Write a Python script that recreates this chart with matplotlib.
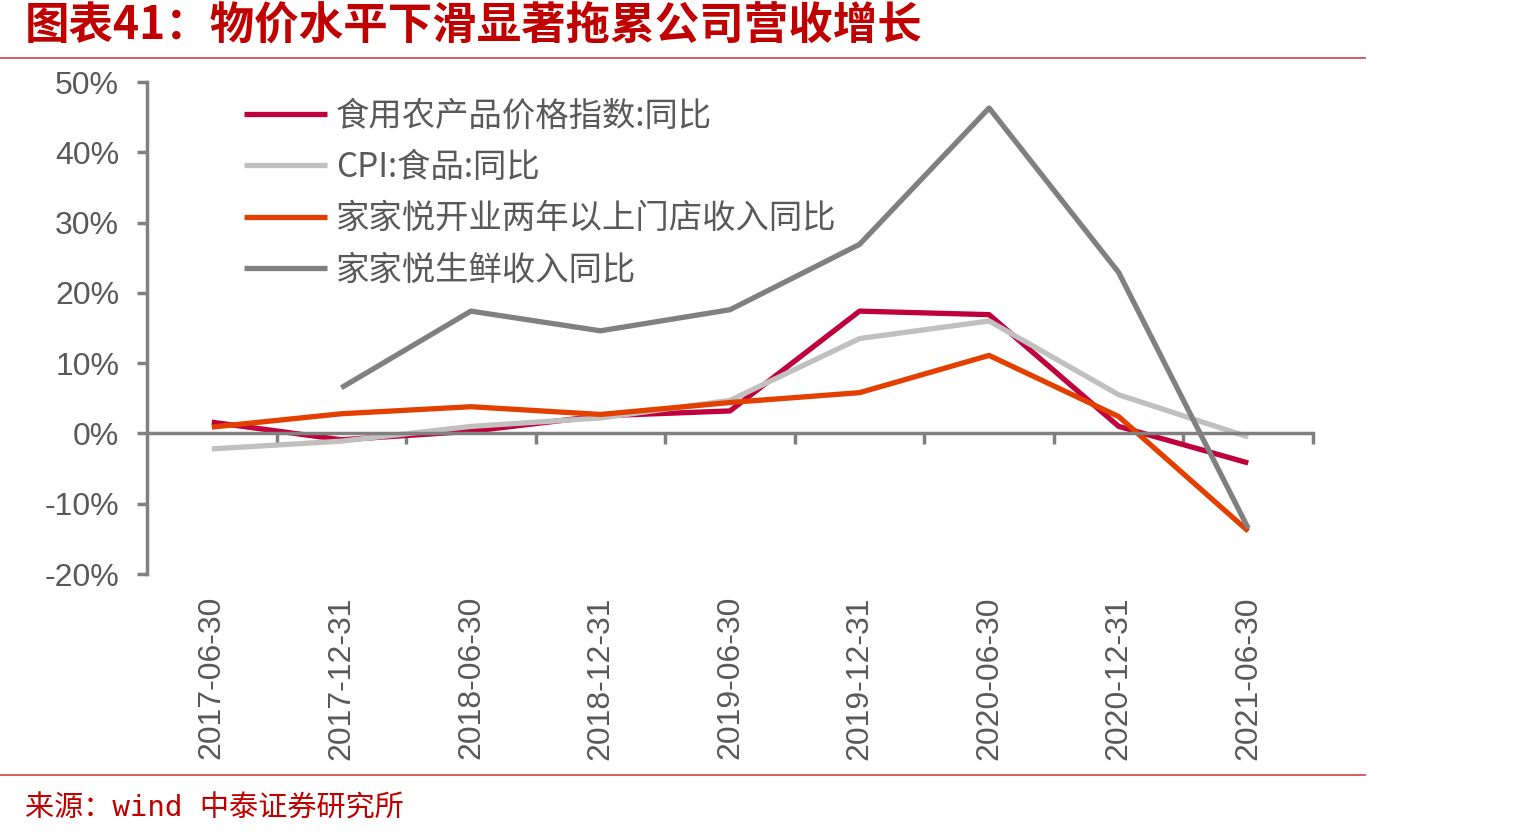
import numpy as np
import matplotlib
matplotlib.use('Agg')
import matplotlib.pyplot as plt
from matplotlib.lines import Line2D

# data (year-on-year, %)
dates = ['2017-06-30', '2017-12-31', '2018-06-30', '2018-12-31', '2019-06-30',
         '2019-12-31', '2020-06-30', '2020-12-31', '2021-06-30']
food_agri = [1.6, -0.9, 0.3, 2.5, 3.2, 17.4, 16.9, 1.0, -4.2]
cpi_food = [-2.2, -1.1, 1.0, 2.2, 4.7, 13.5, 16.0, 5.5, -0.5]
store_2y = [0.9, 2.8, 3.8, 2.7, 4.4, 5.8, 11.1, 2.4, -13.9]
fresh = [np.nan, 6.5, 17.4, 14.6, 17.6, 26.9, 46.3, 22.9, -13.5]

labels = ['食用农产品价格指数:同比', 'CPI:食品:同比',
          '家家悦开业两年以上门店收入同比', '家家悦生鲜收入同比']
colors = ['#C0003C', '#C0C0C0', '#E34000', '#808080']

W, H = 1535, 839
fig = plt.figure(figsize=(W / 100, H / 100), dpi=100)
ax = fig.add_axes([147 / W, 1 - 574 / H, (1313 - 147) / W, (574 - 82) / H])

x = np.arange(len(dates))
for series, lab, col in zip([food_agri, cpi_food, store_2y, fresh], labels, colors):
    ax.plot(x, series, color=col, lw=3.8, label=lab, solid_capstyle='butt')

ax.set_xlim(-0.5, len(dates) - 0.5)
ax.set_ylim(-20, 50)
ax.set_yticks(range(-20, 51, 10))
ax.set_yticklabels([f'{v}%' for v in range(-20, 51, 10)])

axis_col = '#808080'
for s in ['top', 'right']:
    ax.spines[s].set_visible(False)
ax.spines['left'].set_color(axis_col)
ax.spines['left'].set_linewidth(2.5)
ax.spines['bottom'].set_position(('data', 0))
ax.spines['bottom'].set_color(axis_col)
ax.spines['bottom'].set_linewidth(2.5)

ax.set_xticks(np.arange(0.5, len(dates), 1))
ax.set_xticklabels([])
ax.tick_params(axis='x', direction='out', length=8, width=2.5, color=axis_col)
ax.tick_params(axis='y', direction='out', length=7, width=2.5, color=axis_col,
               labelsize=23, labelcolor='#595959', pad=13)
for t in ax.get_yticklabels():
    t.set_fontfamily('Liberation Sans')

for i, d in enumerate(dates):
    ax.text(i, -22 / 492, d, transform=ax.get_xaxis_transform(), rotation=90,
            ha='center', va='top', fontsize=23, color='#595959',
            fontfamily='Liberation Sans')

leg = ax.legend(loc='upper left', bbox_to_anchor=(0.083, 0.966), frameon=False,
                borderpad=0, borderaxespad=0, handlelength=2.5, handletextpad=0.27,
                labelspacing=0.49, prop={'family': 'Noto Sans CJK SC', 'size': 24,
                                         'weight': 'light'})
for t in leg.get_texts():
    t.set_color('#595959')

# title, rules and source
red = '#C00000'
fig.text(25 / W, 1 - 27 / H, '图表41：物价水平下滑显著拖累公司营收增长', fontsize=32,
         fontweight='bold', color=red, ha='left', va='center',
         fontfamily=['Noto Sans CJK SC'])
fig.add_artist(Line2D([0, 1365 / W], [1 - 58 / H] * 2, color='#D05050', lw=1.3))
fig.add_artist(Line2D([0, 1365 / W], [1 - 775 / H] * 2, color='#D05050', lw=1.3))
fig.text(25 / W, 1 - 809 / H, '来源：wind 中泰证券研究所', fontsize=21, color=red,
         ha='left', va='center', fontfamily=['DejaVu Sans Mono', 'Noto Sans CJK SC'])

fig.savefig('out.png', dpi=100)
